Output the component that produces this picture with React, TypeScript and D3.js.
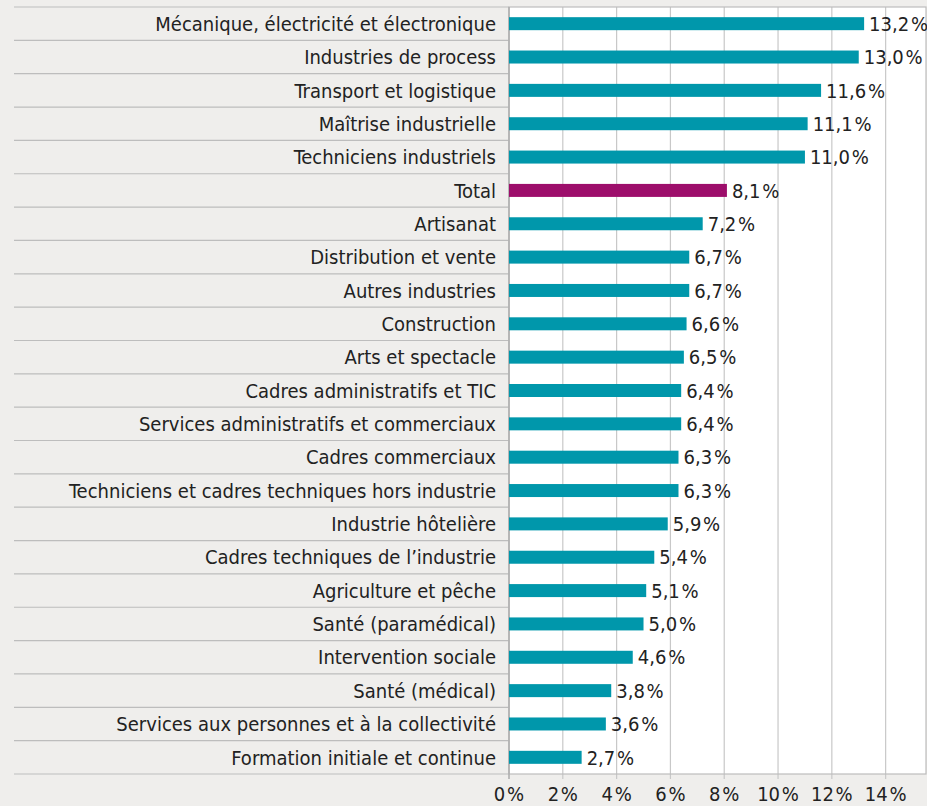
import React from "react";
import * as d3 from "d3";

const categories = [
  "Mécanique, électricité et électronique",
  "Industries de process",
  "Transport et logistique",
  "Maîtrise industrielle",
  "Techniciens industriels",
  "Total",
  "Artisanat",
  "Distribution et vente",
  "Autres industries",
  "Construction",
  "Arts et spectacle",
  "Cadres administratifs et TIC",
  "Services administratifs et commerciaux",
  "Cadres commerciaux",
  "Techniciens et cadres techniques hors industrie",
  "Industrie hôtelière",
  "Cadres techniques de l’industrie",
  "Agriculture et pêche",
  "Santé (paramédical)",
  "Intervention sociale",
  "Santé (médical)",
  "Services aux personnes et à la collectivité",
  "Formation initiale et continue",
];

const values = [
  13.2, 13.0, 11.6, 11.1, 11.0, 8.1, 7.2, 6.7, 6.7, 6.6, 6.5, 6.4, 6.4, 6.3,
  6.3, 5.9, 5.4, 5.1, 5.0, 4.6, 3.8, 3.6, 2.7,
];

const ticks = [0, 2, 4, 6, 8, 10, 12, 14];

const W = 927;
const H = 806;
const left = 509;
const right = 926;
const top = 7;
const bottom = 774;
const tableLeft = 14;
const FONT = "'DejaVu Sans Condensed', 'Liberation Sans Narrow', 'Roboto', sans-serif";

export default function App() {
  const x = d3.scaleLinear().domain([0, 15.5]).range([left, right]);
  const y = d3.scaleBand().domain(categories).range([top, bottom]).paddingInner(0).paddingOuter(0);
  const bh = 13;
  const fmt = (v: number) => v.toFixed(1).replace(".", ",") + "\u200A%";

  return (
    <svg
      width={W}
      height={H}
      style={{ position: "absolute", left: 0, top: 0, background: "#efeeec" }}
      fontFamily={FONT}
    >
      <rect x={0} y={0} width={W} height={H} fill="#efeeec" />
      <rect x={left} y={top} width={right - left} height={bottom - top} fill="#ffffff" />
      {categories.map((c, i) => (
        <line
          key={"r" + i}
          x1={tableLeft}
          x2={left}
          y1={y(c)!}
          y2={y(c)!}
          stroke="#bdbdbd"
          strokeWidth={1.2}
        />
      ))}
      <line x1={tableLeft} x2={left} y1={bottom} y2={bottom} stroke="#bdbdbd" strokeWidth={1.2} />
      {ticks.map((t) => (
        <line key={"g" + t} x1={x(t)} x2={x(t)} y1={top} y2={bottom + 5} stroke="#c8c8c8" strokeWidth={1.2} />
      ))}
      <rect x={left} y={top} width={right - left} height={bottom - top} fill="none" stroke="#bdbdbd" strokeWidth={1.2} />
      <line x1={left} x2={left} y1={top} y2={bottom + 5} stroke="#aaaaaa" strokeWidth={1.2} />
      {categories.map((c, i) => {
        const cy = y(c)! + y.bandwidth() / 2;
        return (
          <g key={"b" + i}>
            <rect
              x={x(0)}
              y={cy - bh / 2}
              width={x(values[i]) - x(0)}
              height={bh}
              fill={c === "Total" ? "#9d0e6b" : "#0097ab"}
            />
            <text x={x(values[i]) + 5} y={cy} dy="0.36em" fontSize={20} fill="#222">
              {fmt(values[i])}
            </text>
            <text x={left - 13} y={cy} dy="0.36em" fontSize={20} fill="#222" textAnchor="end">
              {c}
            </text>
          </g>
        );
      })}
      {ticks.map((t) => (
        <text key={"t" + t} x={x(t)} y={794} dy="0.36em" fontSize={20} fill="#222" textAnchor="middle">
          {t + "\u200A%"}
        </text>
      ))}
    </svg>
  );
}
